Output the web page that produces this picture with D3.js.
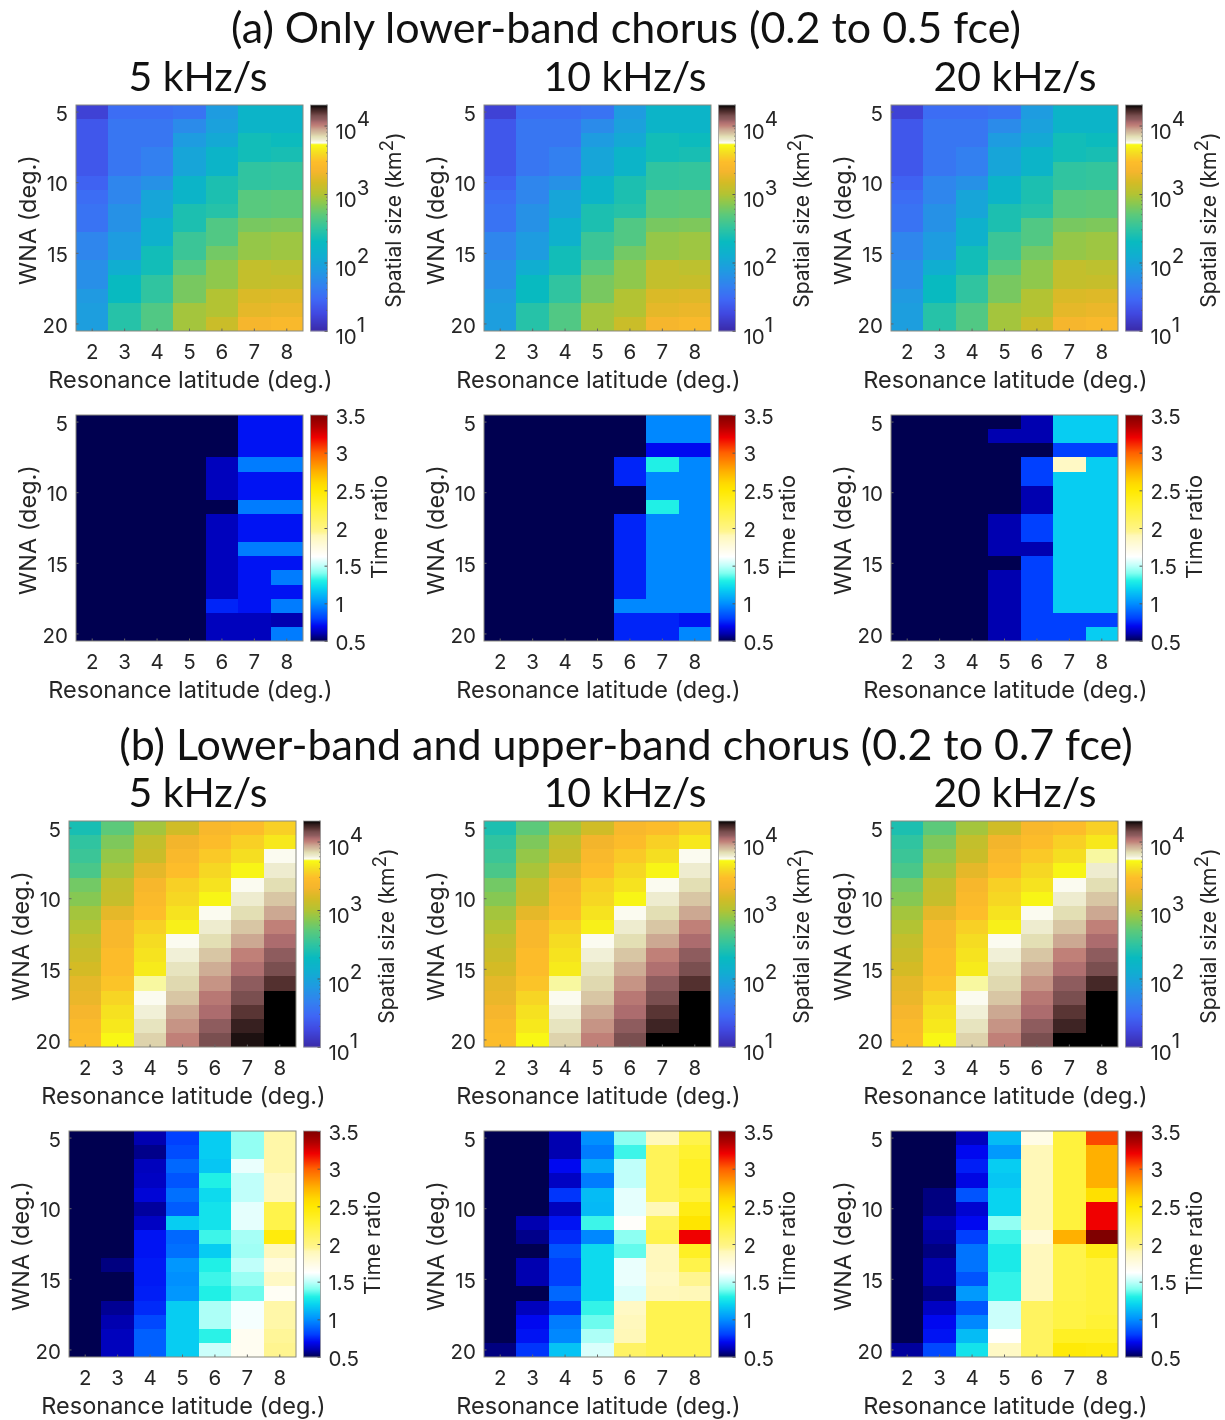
<!DOCTYPE html>
<html><head><meta charset="utf-8">
<script src="https://cdn.jsdelivr.net/npm/d3@7"></script>
<style>html,body{margin:0;background:#fff}svg{display:block;filter:blur(0.45px)}
.t{font-family:Inter,"Noto Sans",sans-serif;fill:#262626}
.ttl{font-family:Lato,"Noto Sans",sans-serif;fill:#111}
.cell{shape-rendering:crispEdges}</style></head><body>
<script>
const lats=[2,3,4,5,6,7,8];
const wna=[5,6,7,8,9,10,11,12,13,14,15,16,17,18,19,20];
const wnaTicks=[5,10,15,20];
const sizeTicks=[10,100,1000,10000];
const timeTicks=[0.5,1,1.5,2,2.5,3,3.5];
const xTitle="Resonance latitude (deg.)", yTitle="WNA (deg.)", sizeTitle="Spatial size (km", timeTitle="Time ratio";
const bandTitles=["(a) Only lower-band chorus (0.2 to 0.5 fce)","(b) Lower-band and upper-band chorus (0.2 to 0.7 fce)"];
const rateTitles=["5 kHz/s","10 kHz/s","20 kHz/s"];
// colour maps (log10 km2 / ratio -> colour)
const sizeStops=[1,1.25,1.45,1.65,1.9,2.1,2.3,2.5,2.7,2.87,3,3.17,3.33,3.47,3.6,3.72,3.735,3.75,3.79,3.84,3.88,3.94,4,4.05,4.09,4.14,4.2,4.25,4.3];
const sizeColors=["#3a2aa8","#4048e0","#3f66f5","#3380f0","#1e9ce0","#10aed0","#08bac0","#30c4a0","#5cc97a","#8cc84e","#b3c333","#d4bb25","#f5b52d","#fdbd2a","#f5dc22","#f9fa14","#f8f8a0","#fbfbf0","#eeeccf","#e3dfb4","#d8c6a4","#cca892","#c08078","#ac6c6e","#8e5c5e","#7a4f50","#53302f","#301c1c","#000000"];
const timeStops=[0.5,0.6,0.7,0.8,1,1.2,1.3,1.4,1.5,1.62,1.75,1.9,1.95,2,2.3,2.5,2.6,2.75,3,3.2,3.35,3.5];
const timeColors=["#000050","#0000b0","#0008f0","#0040ff","#0090ff","#08d4f0","#20f0e6","#80fff0","#c0fffa","#ffffff","#fffbe0","#fff8b8","#fff590","#fff480","#fff230","#ffe800","#ffd800","#ffb000","#ff6000","#f00000","#b00000","#800000"];
// Data by column (resonance latitude 2..8), rows WNA 5..20. Size values are log10 of km2.
const sizeA5=[
[1.2,1.35,1.35,1.35,1.35,1.42,1.5,1.55,1.55,1.7,1.7,1.78,1.78,1.88,1.92,1.92],
[1.5,1.57,1.57,1.57,1.57,1.7,1.7,1.8,1.8,1.9,1.9,2.1,2.3,2.3,2.45,2.45],
[1.5,1.57,1.57,1.65,1.65,1.8,2,2,2.15,2.15,2.35,2.35,2.5,2.5,2.65,2.65],
[1.55,1.75,1.9,2,2,2.2,2.2,2.4,2.4,2.55,2.55,2.68,2.8,2.8,2.95,2.95],
[1.9,1.95,2.05,2.2,2.2,2.4,2.4,2.45,2.65,2.65,2.78,2.88,2.88,3,3,3.12],
[2.2,2.2,2.35,2.35,2.5,2.5,2.68,2.68,2.8,2.9,2.9,3.08,3.08,3.2,3.25,3.35],
[2.2,2.2,2.32,2.38,2.52,2.52,2.7,2.7,2.82,2.93,2.93,3.05,3.1,3.22,3.28,3.4]];
const sizeA10=[
[1.2,1.35,1.35,1.35,1.35,1.42,1.5,1.55,1.55,1.7,1.7,1.78,1.78,1.88,1.92,1.92],
[1.5,1.57,1.57,1.57,1.57,1.7,1.7,1.8,1.8,1.9,1.9,2.1,2.3,2.3,2.45,2.45],
[1.5,1.57,1.57,1.65,1.65,1.8,2,2,2.15,2.15,2.35,2.35,2.5,2.5,2.65,2.65],
[1.55,1.75,1.9,2,2,2.2,2.2,2.4,2.4,2.55,2.55,2.68,2.8,2.8,2.95,2.95],
[1.9,1.95,2.05,2.2,2.2,2.4,2.4,2.45,2.65,2.65,2.78,2.88,2.88,3,3,3.12],
[2.2,2.2,2.35,2.35,2.5,2.5,2.68,2.68,2.8,2.9,2.9,3.08,3.08,3.2,3.25,3.35],
[2.2,2.2,2.32,2.38,2.52,2.52,2.7,2.7,2.82,2.93,2.93,3.05,3.1,3.22,3.28,3.4]];
const sizeA20=[
[1.2,1.35,1.35,1.35,1.35,1.42,1.5,1.55,1.55,1.7,1.7,1.78,1.78,1.88,1.92,1.92],
[1.5,1.57,1.57,1.57,1.57,1.7,1.7,1.8,1.8,1.9,1.9,2.1,2.3,2.3,2.45,2.45],
[1.5,1.57,1.57,1.65,1.65,1.8,2,2,2.15,2.15,2.35,2.35,2.5,2.5,2.65,2.65],
[1.55,1.75,1.9,2,2,2.2,2.2,2.4,2.4,2.55,2.55,2.68,2.8,2.8,2.95,2.95],
[1.9,1.95,2.05,2.2,2.2,2.4,2.4,2.45,2.65,2.65,2.78,2.88,2.88,3,3,3.12],
[2.2,2.2,2.35,2.35,2.5,2.5,2.68,2.68,2.8,2.9,2.9,3.08,3.08,3.2,3.25,3.35],
[2.2,2.2,2.32,2.38,2.52,2.52,2.7,2.7,2.82,2.93,2.93,3.05,3.1,3.22,3.28,3.4]];
const timeA5=[
[.5,.5,.5,.5,.5,.5,.5,.5,.5,.5,.5,.5,.5,.5,.5,.5],
[.5,.5,.5,.5,.5,.5,.5,.5,.5,.5,.5,.5,.5,.5,.5,.5],
[.5,.5,.5,.5,.5,.5,.5,.5,.5,.5,.5,.5,.5,.5,.5,.5],
[.5,.5,.5,.5,.5,.5,.5,.5,.5,.5,.5,.5,.5,.5,.5,.5],
[.5,.5,.5,.62,.62,.62,.5,.62,.62,.62,.62,.62,.62,.75,.62,.62],
[.72,.72,.72,.95,.72,.72,.95,.72,.72,.95,.72,.72,.72,.72,.62,.62],
[.72,.72,.72,.95,.72,.72,.95,.72,.72,.95,.72,.95,.72,.95,.6,.95]];
const timeA10=[
[.5,.5,.5,.5,.5,.5,.5,.5,.5,.5,.5,.5,.5,.5,.5,.5],
[.5,.5,.5,.5,.5,.5,.5,.5,.5,.5,.5,.5,.5,.5,.5,.5],
[.5,.5,.5,.5,.5,.5,.5,.5,.5,.5,.5,.5,.5,.5,.5,.5],
[.5,.5,.5,.5,.5,.5,.5,.5,.5,.5,.5,.5,.5,.5,.5,.5],
[.5,.5,.5,.75,.75,.5,.5,.75,.75,.75,.75,.75,.75,.98,.75,.75],
[.98,.98,.7,1.3,.98,.98,1.3,.98,.98,.98,.98,.98,.98,.98,.75,.75],
[.98,.98,.7,.98,.98,.98,.98,.98,.98,.98,.98,.98,.98,.98,.72,.98]];
const timeA20=[
[.5,.5,.5,.5,.5,.5,.5,.5,.5,.5,.5,.5,.5,.5,.5,.5],
[.5,.5,.5,.5,.5,.5,.5,.5,.5,.5,.5,.5,.5,.5,.5,.5],
[.5,.5,.5,.5,.5,.5,.5,.5,.5,.5,.5,.5,.5,.5,.5,.5],
[.5,.6,.5,.5,.5,.5,.5,.6,.6,.6,.5,.6,.6,.6,.6,.6],
[.6,.6,.5,.8,.8,.6,.6,.8,.8,.6,.8,.8,.8,.8,.8,.8],
[1.18,1.18,.8,1.85,1.18,1.18,1.18,1.18,1.18,1.18,1.18,1.18,1.18,1.18,.8,.8],
[1.18,1.18,.8,1.18,1.18,1.18,1.18,1.18,1.18,1.18,1.18,1.18,1.18,1.18,.8,1.18]];
const sizeB5=[
[2.38,2.5,2.55,2.62,2.78,2.85,2.95,3,3.08,3.12,3.17,3.25,3.28,3.35,3.42,3.45],
[2.7,2.82,2.9,2.97,3.08,3.1,3.25,3.38,3.38,3.45,3.45,3.5,3.57,3.62,3.65,3.71],
[2.95,3.08,3.12,3.25,3.36,3.42,3.47,3.55,3.6,3.63,3.66,3.735,3.75,3.78,3.82,3.86],
[3.15,3.32,3.4,3.47,3.55,3.58,3.63,3.68,3.75,3.78,3.82,3.85,3.88,3.94,3.97,4],
[3.38,3.45,3.52,3.58,3.63,3.7,3.75,3.79,3.84,3.88,3.93,3.97,4.02,4.05,4.09,4.14],
[3.46,3.55,3.61,3.7,3.75,3.79,3.84,3.88,3.94,4,4.04,4.09,4.14,4.19,4.24,4.27],
[3.55,3.65,3.75,3.79,3.84,3.88,3.94,4,4.05,4.09,4.14,4.2,4.3,4.3,4.3,4.3]];
const sizeB10=[
[2.4,2.5,2.55,2.62,2.78,2.85,2.95,3,3.08,3.12,3.17,3.25,3.28,3.35,3.42,3.45],
[2.7,2.82,2.9,2.97,3.08,3.1,3.25,3.38,3.38,3.45,3.45,3.5,3.57,3.62,3.65,3.71],
[2.95,3.08,3.12,3.25,3.36,3.42,3.47,3.55,3.6,3.63,3.66,3.735,3.75,3.78,3.82,3.86],
[3.15,3.32,3.4,3.47,3.55,3.58,3.63,3.68,3.75,3.78,3.82,3.85,3.88,3.94,3.97,4],
[3.38,3.45,3.52,3.58,3.63,3.7,3.75,3.79,3.84,3.88,3.93,3.97,4.02,4.05,4.09,4.14],
[3.46,3.55,3.61,3.7,3.75,3.79,3.84,3.88,3.94,4,4.04,4.09,4.14,4.19,4.23,4.3],
[3.55,3.65,3.75,3.79,3.84,3.88,3.94,4,4.05,4.09,4.14,4.2,4.3,4.3,4.3,4.3]];
const sizeB20=[
[2.4,2.5,2.55,2.62,2.78,2.85,2.95,3,3.08,3.12,3.17,3.25,3.28,3.35,3.42,3.45],
[2.7,2.82,2.9,2.97,3.08,3.1,3.25,3.38,3.38,3.45,3.45,3.5,3.57,3.62,3.65,3.71],
[2.95,3.08,3.12,3.25,3.36,3.42,3.47,3.55,3.6,3.63,3.66,3.735,3.75,3.78,3.82,3.86],
[3.15,3.32,3.4,3.47,3.55,3.58,3.63,3.68,3.75,3.78,3.82,3.85,3.88,3.94,3.97,4],
[3.38,3.45,3.52,3.58,3.63,3.7,3.75,3.79,3.84,3.88,3.93,3.97,4.02,4.05,4.09,4.14],
[3.46,3.55,3.61,3.7,3.75,3.79,3.84,3.88,3.94,4,4.04,4.09,4.14,4.19,4.23,4.3],
[3.55,3.65,3.735,3.79,3.84,3.88,3.94,4,4.05,4.09,4.14,4.22,4.3,4.3,4.3,4.3]];
const timeB5=[
[.5,.5,.5,.5,.5,.5,.5,.5,.5,.5,.5,.5,.5,.5,.5,.5],
[.5,.5,.5,.5,.5,.5,.5,.5,.5,.55,.5,.5,.57,.6,.62,.62],
[.6,.56,.62,.63,.66,.58,.63,.72,.72,.73,.73,.74,.76,.82,.88,.88],
[.8,.83,.9,.85,.92,.87,1.18,.9,.92,1.02,1,1.02,1.18,1.18,1.18,1.18],
[1.18,1.18,1.16,1.3,1.22,1.25,1.25,1.33,1.18,1.3,1.33,1.3,1.47,1.47,1.31,1.52],
[1.43,1.43,1.58,1.5,1.5,1.57,1.57,1.46,1.45,1.5,1.44,1.38,1.6,1.6,1.68,1.68],
[1.92,1.92,1.92,1.88,1.88,2.2,2.2,2.45,1.88,1.75,1.85,1.66,1.92,1.92,1.94,1.95]];
const timeB10=[
[.5,.5,.5,.5,.5,.5,.5,.5,.5,.5,.5,.5,.5,.5,.5,.55],
[.5,.5,.5,.5,.5,.5,.6,.56,.5,.6,.6,.5,.62,.7,.72,.78],
[.6,.6,.7,.63,.78,.62,.72,.76,.85,.8,.8,.9,.78,.95,.98,1.15],
[1,.95,1.08,.95,1.13,1.12,1.33,.98,1.22,1.22,1.22,1.22,1.32,1.38,1.47,1.55],
[1.42,1.33,1.5,1.5,1.57,1.57,1.64,1.42,1.37,1.58,1.58,1.55,1.85,1.88,1.9,2.1],
[1.88,2.15,2.15,2.15,2.15,1.9,2.15,2.2,1.88,1.88,1.85,1.88,2.18,2.18,2.18,2.18],
[2.2,2.3,2.35,2.35,2.25,2.42,2.52,3.2,2.35,2.2,1.95,1.9,2.18,2.18,2.18,2.18]];
const timeB20=[
[.5,.5,.5,.5,.5,.5,.5,.5,.5,.5,.5,.5,.5,.5,.5,.58],
[.5,.5,.5,.5,.55,.55,.6,.58,.55,.6,.6,.55,.63,.7,.72,.82],
[.62,.7,.74,.68,.85,.65,.7,.8,.93,.93,.85,1.03,.85,.98,1.13,1.25],
[1.13,1.03,1.18,1.16,1.2,1.2,1.43,1.33,1.28,1.28,1.32,1.32,1.52,1.52,1.63,1.85],
[1.72,1.9,1.9,1.9,1.9,1.9,1.9,1.78,1.88,1.88,1.88,1.88,2.12,2.12,2.12,2.12],
[2.25,2.25,2.25,2.25,2.25,2.25,2.25,2.75,2.2,2.2,2.2,2.2,2.22,2.22,2.35,2.47],
[3.05,2.75,2.75,2.75,2.55,3.2,3.2,3.5,2.4,2.25,2.25,2.25,2.25,2.28,2.35,2.45]];

const W=1225,H=1420,pw=227,ph=226,cbw=17;
const svg=d3.select("body").append("svg").attr("width",W).attr("height",H).attr("viewBox",`0 0 ${W} ${H}`);
const sizeColor=d3.scaleLinear().domain(sizeStops).range(sizeColors).clamp(true);
const timeColor=d3.scaleLinear().domain(timeStops).range(timeColors).clamp(true);
const xS=d3.scaleBand().domain(lats).range([0,pw]);
const yS=d3.scaleBand().domain(wna).range([0,ph]);
const FS=20.5, LS=23.5;

function panel(px,py,data,kind){
  const g=svg.append("g").attr("transform",`translate(${px},${py})`);
  const col=kind==="size"?sizeColor:timeColor;
  data.forEach((c,i)=>{
    g.selectAll(null).data(c).join("rect").attr("class","cell")
     .attr("x",xS(lats[i])).attr("y",(d,j)=>yS(wna[j]))
     .attr("width",xS.bandwidth()).attr("height",yS.bandwidth())
     .attr("fill",d=>col(d));
  });
  g.append("rect").attr("width",pw).attr("height",ph).attr("fill","none").attr("stroke","#8a8a80").attr("stroke-width",1);
  const ax=g.append("g").attr("transform",`translate(0,${ph})`).call(d3.axisBottom(xS).tickSizeInner(-2.5).tickSizeOuter(0).tickPadding(13));
  const ay=g.append("g").call(d3.axisLeft(yS).tickValues(wnaTicks).tickSizeInner(-2.5).tickSizeOuter(0).tickPadding(8));
  [ax,ay].forEach(a=>{a.select(".domain").remove();a.selectAll("line").attr("stroke","#666");
    a.selectAll("text").attr("class","t").attr("font-size",FS).attr("fill",null);});
  ay.selectAll("text").attr("dy","0.42em");
  g.append("text").attr("class","t").attr("x",pw/2+1).attr("y",ph+57).attr("text-anchor","middle").attr("font-size",LS).text(xTitle);
  g.append("text").attr("class","t").attr("transform",`translate(-40,${ph/2+2}) rotate(-90)`).attr("text-anchor","middle").attr("font-size",LS).text(yTitle);
  // colour bar
  const cx=pw+7.5;
  const cb=g.append("g").attr("transform",`translate(${cx},0)`);
  if(kind==="size"){
    const sc=d3.scaleLog().domain([10,10**4.3]).range([ph,0]);
    const steps=d3.range(0,ph,1);
    cb.selectAll("rect").data(steps).join("rect").attr("x",0).attr("y",d=>d).attr("width",cbw).attr("height",1.3)
      .attr("fill",d=>sizeColor(Math.log10(sc.invert(d+.5))));
    const minor=[2,3,4,5,6,7,8,9].flatMap(m=>[10,100,1000].map(k=>m*k)).concat([20000]);
    cb.selectAll("line.m").data(minor).join("line").attr("class","m").attr("x1",cbw-1.5).attr("x2",cbw).attr("y1",d=>sc(d)).attr("y2",d=>sc(d)).attr("stroke","#555").attr("stroke-width",.6);
    const a=cb.append("g").attr("transform",`translate(${cbw},0)`).call(d3.axisRight(sc).tickValues(sizeTicks).tickSizeInner(-3).tickSizeOuter(0).tickPadding(8).tickFormat(d=>"10"));
    a.select(".domain").remove();a.selectAll("line").attr("stroke","#555");
    a.selectAll("text").attr("class","t").attr("font-size",FS).attr("fill",null).attr("dy","0.62em")
      .each(function(d){d3.select(this).append("tspan").attr("dy","-0.62em").attr("font-size",FS).text(Math.round(Math.log10(d)));});
    const lab=g.append("text").attr("class","t").attr("transform",`translate(${325},${ph/2+2}) rotate(-90)`).attr("text-anchor","middle").attr("font-size",21).text(sizeTitle);
    lab.append("tspan").attr("dy","-0.4em").attr("font-size",19).text("2");
    lab.append("tspan").attr("dy","0.4em").text(")");
  } else {
    const sc=d3.scaleLinear().domain([.5,3.5]).range([ph,0]);
    cb.selectAll("rect").data(d3.range(0,ph,1)).join("rect").attr("x",0).attr("y",d=>d).attr("width",cbw).attr("height",1.3)
      .attr("fill",d=>timeColor(sc.invert(d+.5)));
    const a=cb.append("g").attr("transform",`translate(${cbw},0)`).call(d3.axisRight(sc).tickValues(timeTicks).tickSizeInner(-3).tickSizeOuter(0).tickPadding(8).tickFormat(d=>d));
    a.select(".domain").remove();a.selectAll("line").attr("stroke","#555");
    a.selectAll("text").attr("class","t").attr("font-size",FS).attr("fill",null).attr("dy","0.4em");
    g.append("text").attr("class","t").attr("transform",`translate(${311},${ph/2-1}) rotate(-90)`).attr("text-anchor","middle").attr("font-size",22).text(timeTitle);
  }
  cb.append("rect").attr("width",cbw).attr("height",ph).attr("fill","none").attr("stroke","#9a9a9a").attr("stroke-width",.8);
}

const layoutX=[[76,484,891],[69,484,891]];
const layoutY=[[105,415],[821,1131]];
const sets=[[[sizeA5,timeA5],[sizeA10,timeA10],[sizeA20,timeA20]],[[sizeB5,timeB5],[sizeB10,timeB10],[sizeB20,timeB20]]];
const rateX=[198,625,1015];
const titleY=[43,760],subY=[91,807];
sets.forEach((band,b)=>{
  svg.append("text").attr("class","ttl").attr("x",626).attr("y",titleY[b]).attr("text-anchor","middle").attr("font-size",43).text(bandTitles[b]);
  rateTitles.forEach((r,i)=>svg.append("text").attr("class","ttl").attr("x",rateX[i]).attr("y",subY[b]).attr("text-anchor","middle").attr("font-size",41).text(r));
  band.forEach((pair,i)=>{
    panel(layoutX[b][i],layoutY[b][0],pair[0],"size");
    panel(layoutX[b][i],layoutY[b][1],pair[1],"time");
  });
});
</script></body></html>
